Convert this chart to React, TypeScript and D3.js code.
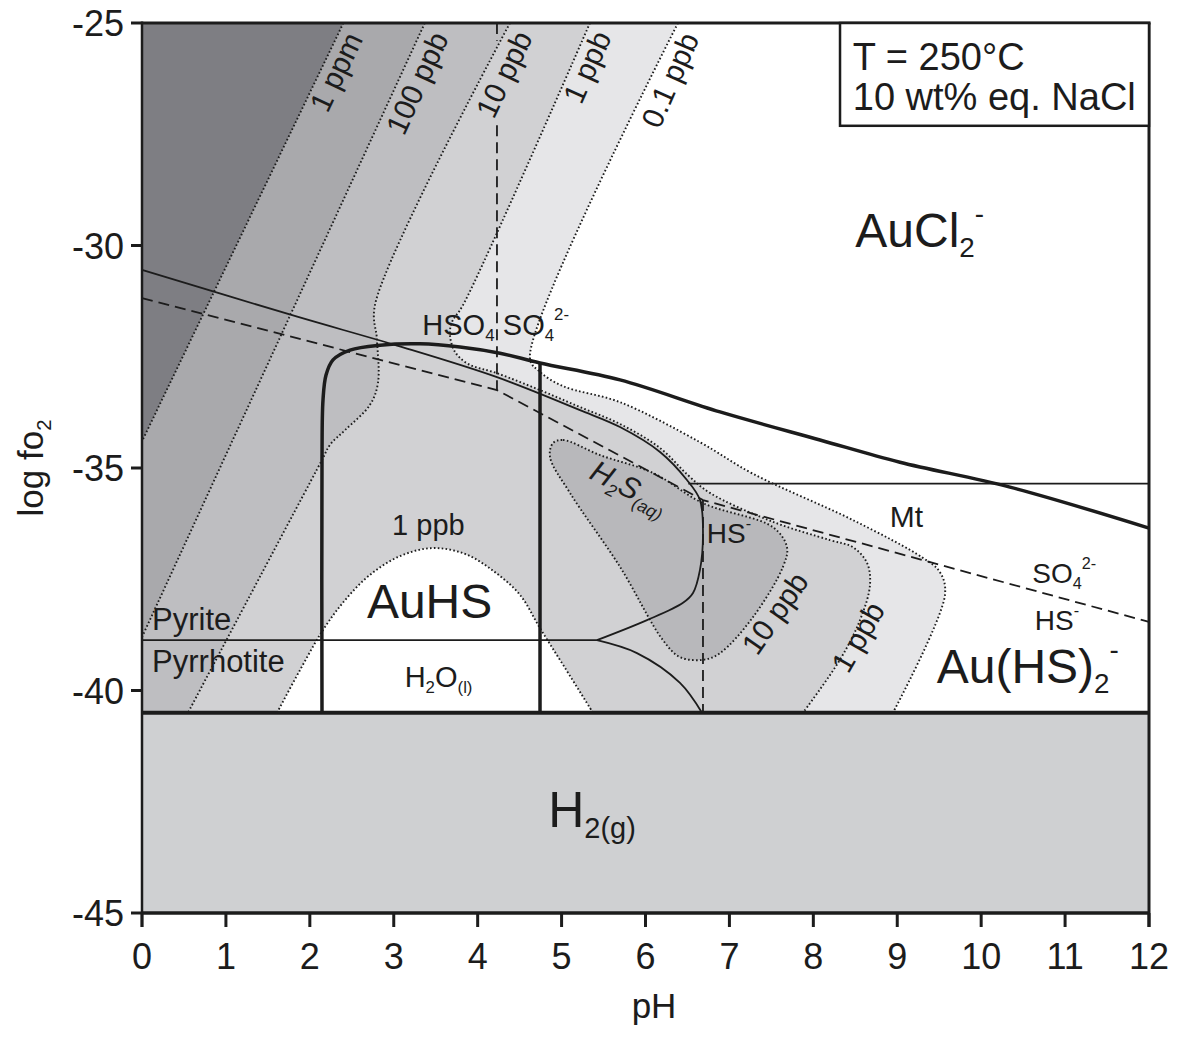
import React from 'react';
import * as d3 from 'd3';

const W = 1181;
const H = 1037;
const FONT = '"Liberation Sans", Arial, Helvetica, sans-serif';

const xTicks = [0, 1, 2, 3, 4, 5, 6, 7, 8, 9, 10, 11, 12];
const yTicks = [-25, -30, -35, -40, -45];

const H2_BOUNDARY = -40.5;
const PYRITE_LOGFO2 = -38.87;
const MT_LOGFO2 = -35.35;
const MT_START_PH = 6.51;
const HSO4_SO4_PH = 4.23;
const H2S_HS_PH = 6.685;
const AU_VERTICAL_PH = 4.743;

// solubility contours [pH, log fO2]
const contour1ppm = [[2.4, -25], [0, -34.4]];
const contour100ppb = [[3.37, -25], [0, -38.8]];
const contour10ppb = [
  [4.385, -25], [2.776, -31.34], [2.8, -32.12], [2.812, -33.09], [2.717, -33.58],
  [2.419, -34.15], [2.24, -34.48], [2.145, -34.82], [1.418, -37.4], [0.548, -40.5],
];
const contour1ppb = [
  [5.338, -25], [3.825, -31.34], [3.694, -31.72], [3.67, -32.01], [3.73, -32.39],
  [3.885, -32.66], [4.23, -32.87], [4.743, -33.25], [5.219, -33.63], [5.696, -34.01],
  [6.173, -34.55], [6.506, -35.16], [6.768, -35.56], [7.519, -36.21], [8.198, -36.62],
  [8.472, -36.78], [8.639, -37.13], [8.675, -37.63], [8.556, -38.42], [8.317, -39.31],
  [7.877, -40.5],
];
const contour01ppb = [
  [6.387, -25], [4.623, -32.53], [4.743, -32.84], [5.017, -33.16], [5.696, -33.52],
  [6.649, -34.42], [7.281, -35.13], [8.472, -36.17], [9.306, -37.02], [9.509, -37.34],
  [9.569, -37.85], [8.949, -40.5],
];
const blob10ppb = [
  [4.898, -34.44], [5.017, -34.37], [5.458, -34.71], [6.089, -35.11], [6.685, -35.79],
  [7.519, -36.33], [7.686, -36.78], [7.638, -37.22], [7.281, -38.35], [6.888, -39.16],
  [6.685, -39.31], [6.411, -39.25], [6.208, -38.87], [5.696, -37.22], [5.1, -35.56],
  [4.862, -34.75],
];
const dome1ppb = [
  [1.609, -40.5], [1.883, -39.54], [2.157, -38.64], [2.419, -37.97], [2.717, -37.4],
  [3.074, -36.98], [3.456, -36.8], [3.849, -36.93], [4.206, -37.34], [4.504, -37.85],
  [4.743, -38.6], [5.04, -39.49], [5.374, -40.5],
];

// phase boundaries
const solidBoundary = [
  [0, -30.55], [1.85, -31.6], [3.04, -32.25], [4.23, -32.96], [5.219, -33.7],
  [5.696, -34.08], [6.173, -34.64], [6.494, -35.27], [6.649, -35.72], [6.685, -36.46],
  [6.649, -37.29], [6.566, -37.81], [6.447, -38.03], [6.018, -38.42], [5.422, -38.87],
];
const pyrrhotiteBranch = [[5.422, -38.87], [5.898, -39.16], [6.411, -39.83], [6.673, -40.5]];
const dashedSulfate = [[0, -31.18], [4.23, -33.25], [6.685, -35.72], [12, -38.46]];
const auArc = [
  [2.145, -40.5], [2.145, -34.82], [2.157, -33.47], [2.193, -32.91], [2.276, -32.57],
  [2.479, -32.35], [2.836, -32.24], [3.313, -32.21], [3.789, -32.28], [4.266, -32.42],
  [4.743, -32.64], [5.696, -33.02], [6.888, -33.74], [8.079, -34.37], [9.032, -34.87],
  [10.343, -35.43], [12, -36.35],
];

const C_1PPM = '#7e7e83';
const C_100 = '#a9a9ac';
const C_10 = '#bebec1';
const C_1 = '#d1d1d3';
const C_01 = '#e6e6e8';
const C_BLOB = '#b8b8bb';
const C_H2 = '#cfd0d2';
const INK = '#1c1c1c';

type Part = [string, string?];

function Chem({ x, y, size, parts, italic, transform, anchor }: any) {
  let cur = 0;
  return (
    <text x={x} y={y} fontSize={size} fontStyle={italic ? 'italic' : 'normal'} transform={transform}
      textAnchor={anchor || 'start'} fill={INK} fontFamily={FONT}>
      {parts.map((p: Part, i: number) => {
        const k = p[1] || '';
        const target = k === 'sub' ? size * 0.22 : k === 'sup' ? -size * 0.5 : 0;
        const dy = target - cur;
        cur = target;
        return (
          <tspan key={i} dy={dy} fontSize={k ? size * 0.58 : size}>{p[0]}</tspan>
        );
      })}
    </text>
  );
}

export default function App() {
  const sx = d3.scaleLinear().domain([0, 12]).range([142, 1149]);
  const sy = d3.scaleLinear().domain([-25, -45]).range([23, 913]);
  const lineC = d3.line<number[]>().x(d => sx(d[0])).y(d => sy(d[1])).curve(d3.curveCatmullRom.alpha(0.5));
  const lineL = d3.line<number[]>().x(d => sx(d[0])).y(d => sy(d[1]));
  const closedC = d3.line<number[]>().x(d => sx(d[0])).y(d => sy(d[1])).curve(d3.curveCatmullRomClosed.alpha(0.5));
  const corners = (cs: number[][]) => cs.map(c => `L${sx(c[0])},${sy(c[1])}`).join('');
  const leftCorners = [[0, H2_BOUNDARY], [0, -25]];

  const dotted = { fill: 'none', stroke: INK, strokeWidth: 1.9, strokeDasharray: '1.6 2.3' };
  const thin = { fill: 'none', stroke: INK, strokeWidth: 1.8 };
  const dashed = { fill: 'none', stroke: INK, strokeWidth: 1.8, strokeDasharray: '11 6' };
  const thick = { fill: 'none', stroke: INK, strokeWidth: 3.5 };

  const contourLabel = (t: string, px: number, py: number, a: number, k: string) => (
    <text key={k} transform={`translate(${sx(px)},${sy(py)}) rotate(${a})`} textAnchor="middle"
      dominantBaseline="central" fontSize={30} fontFamily={FONT} fill={INK}>{t}</text>
  );

  const x0 = sx(0), x1 = sx(12), yTop = sy(-25), yBot = sy(-45);

  return (
    <svg width={W} height={H} style={{ position: 'absolute', left: 0, top: 0 }} fontFamily={FONT}>
      <rect x={0} y={0} width={W} height={H} fill="#fff" />
      {/* solubility fields */}
      <path d={lineC(contour01ppb) + corners(leftCorners) + 'Z'} fill={C_01} />
      <path d={lineC(contour1ppb) + corners(leftCorners) + 'Z'} fill={C_1} />
      <path d={lineC(dome1ppb) + 'Z'} fill="#fff" />
      <path d={lineC(contour10ppb) + corners(leftCorners) + 'Z'} fill={C_10} />
      <path d={closedC(blob10ppb) || ''} fill={C_BLOB} />
      <path d={lineL(contour100ppb) + corners([[0, -25]]) + 'Z'} fill={C_100} />
      <path d={lineL(contour1ppm) + corners([[0, -25]]) + 'Z'} fill={C_1PPM} />
      <rect x={x0} y={sy(H2_BOUNDARY)} width={x1 - x0} height={yBot - sy(H2_BOUNDARY)} fill={C_H2} />

      {/* contour lines */}
      <path d={lineL(contour1ppm) || ''} {...dotted} />
      <path d={lineL(contour100ppb) || ''} {...dotted} />
      <path d={lineC(contour10ppb) || ''} {...dotted} />
      <path d={lineC(contour1ppb) || ''} {...dotted} />
      <path d={lineC(contour01ppb) || ''} {...dotted} />
      <path d={closedC(blob10ppb) || ''} {...dotted} />
      <path d={lineC(dome1ppb) || ''} {...dotted} />

      {/* thin boundaries */}
      <path d={lineC(solidBoundary) || ''} {...thin} />
      <path d={lineC(pyrrhotiteBranch) || ''} {...thin} />
      <line x1={x0} x2={sx(5.422)} y1={sy(PYRITE_LOGFO2)} y2={sy(PYRITE_LOGFO2)} {...thin} />
      <line x1={sx(MT_START_PH)} x2={x1} y1={sy(MT_LOGFO2)} y2={sy(MT_LOGFO2)} {...thin} />

      {/* dashed boundaries */}
      <path d={lineL(dashedSulfate) || ''} {...dashed} />
      <line x1={sx(HSO4_SO4_PH)} x2={sx(HSO4_SO4_PH)} y1={yTop} y2={sy(-25.4)} {...dashed} />
      <line x1={sx(HSO4_SO4_PH)} x2={sx(HSO4_SO4_PH)} y1={sy(-27.3)} y2={sy(-33.25)} {...dashed} />
      <line x1={sx(H2S_HS_PH)} x2={sx(H2S_HS_PH)} y1={sy(-35.72)} y2={sy(H2_BOUNDARY)} {...dashed} />

      {/* thick boundaries */}
      <path d={lineC(auArc) || ''} {...thick} />
      <line x1={sx(AU_VERTICAL_PH)} x2={sx(AU_VERTICAL_PH)} y1={sy(-32.64)} y2={sy(H2_BOUNDARY)} {...thick} />
      <line x1={x0} x2={x1} y1={sy(H2_BOUNDARY)} y2={sy(H2_BOUNDARY)} stroke={INK} strokeWidth={4} />

      {/* frame */}
      <line x1={x0} x2={x1 + 1.5} y1={yTop} y2={yTop} stroke={INK} strokeWidth={3} />
      <line x1={x1} x2={x1} y1={yTop} y2={yBot + 14} stroke={INK} strokeWidth={3} />
      <line x1={x0} x2={x1} y1={yBot} y2={yBot} stroke={INK} strokeWidth={3.5} />
      <line x1={x0} x2={x0} y1={yTop - 1.5} y2={yBot + 14} stroke={INK} strokeWidth={2.5} />
      {yTicks.map(v => (
        <g key={'y' + v}>
          <line x1={x0 - 11} x2={x0} y1={sy(v)} y2={sy(v)} stroke={INK} strokeWidth={3} />
          <text x={x0 - 18} y={sy(v) + 13} textAnchor="end" fontSize={36} fill={INK}>{v}</text>
        </g>
      ))}
      {xTicks.map(v => (
        <g key={'x' + v}>
          <line x1={sx(v)} x2={sx(v)} y1={yBot} y2={yBot + 14} stroke={INK} strokeWidth={3} />
          <text x={sx(v)} y={969} textAnchor="middle" fontSize={36} fill={INK}>{v}</text>
        </g>
      ))}
      <text x={654} y={1018} textAnchor="middle" fontSize={35} fill={INK}>pH</text>
      <Chem x={0} y={0} size={35} anchor="middle" transform={`translate(43,468) rotate(-90)`}
        parts={[['log fo'], ['2', 'sub']]} />

      {/* contour labels */}
      {contourLabel('1 ppm', 2.312, -26.1, -64.4, 'a')}
      {contourLabel('100 ppb', 3.277, -26.35, -65.3, 'b')}
      {contourLabel('10 ppb', 4.314, -26.15, -64.4, 'c')}
      {contourLabel('1 ppb', 5.303, -25.99, -65.8, 'd')}
      {contourLabel('0.1 ppb', 6.292, -26.28, -66.2, 'e')}
      {contourLabel('10 ppb', 7.543, -38.26, -55, 'f')}
      {contourLabel('1 ppb', 8.532, -38.8, -60, 'g')}
      <text x={sx(2.98)} y={sy(-36.5)} fontSize={29} fill={INK}>1 ppb</text>

      {/* field labels */}
      <Chem x={sx(8.5)} y={sy(-30.03)} size={48} parts={[['AuCl'], ['2', 'sub'], ['-', 'sup']]} />
      <text x={sx(2.68)} y={sy(-38.37)} fontSize={48} fill={INK}>AuHS</text>
      <Chem x={sx(9.47)} y={sy(-39.83)} size={48} parts={[['Au(HS)'], ['2', 'sub'], ['-', 'sup']]} />
      <Chem x={sx(4.84)} y={sy(-43.07)} size={50} parts={[['H'], ['2(g)', 'sub']]} />
      <Chem x={sx(3.34)} y={sy(-32.01)} size={29} parts={[['HSO'], ['4', 'sub']]} />
      <Chem x={sx(4.3)} y={sy(-32.01)} size={29} parts={[['SO'], ['4', 'sub'], ['2-', 'sup']]} />
      <text x={sx(0.12)} y={sy(-38.64)} fontSize={31} fill={INK}>Pyrite</text>
      <text x={sx(0.12)} y={sy(-39.58)} fontSize={31} fill={INK}>Pyrrhotite</text>
      <Chem x={sx(3.13)} y={sy(-39.92)} size={29} parts={[['H'], ['2', 'sub'], ['O'], ['(l)', 'sub']]} />
      <Chem x={0} y={0} size={30} italic transform={`translate(${sx(5.315)},${sy(-35.22)}) rotate(27)`}
        parts={[['H'], ['2', 'sub'], ['S'], ['(aq)', 'sub']]} />
      <Chem x={sx(6.73)} y={sy(-36.69)} size={28} parts={[['HS'], ['-', 'sup']]} />
      <text x={sx(8.91)} y={sy(-36.33)} fontSize={30} fill={INK}>Mt</text>
      <Chem x={sx(10.61)} y={sy(-37.58)} size={28} parts={[['SO'], ['4', 'sub'], ['2-', 'sup']]} />
      <Chem x={sx(10.64)} y={sy(-38.64)} size={28} parts={[['HS'], ['-', 'sup']]} />

      {/* legend */}
      <rect x={sx(8.318)} y={yTop} width={x1 - sx(8.318)} height={sy(-27.31) - yTop} fill="#fff" stroke={INK} strokeWidth={2.5} />
      <text x={sx(8.47)} y={sy(-26.06)} fontSize={38} fill={INK}>T = 250°C</text>
      <text x={sx(8.47)} y={sy(-26.96)} fontSize={38} fill={INK}>10 wt% eq. NaCl</text>
    </svg>
  );
}
